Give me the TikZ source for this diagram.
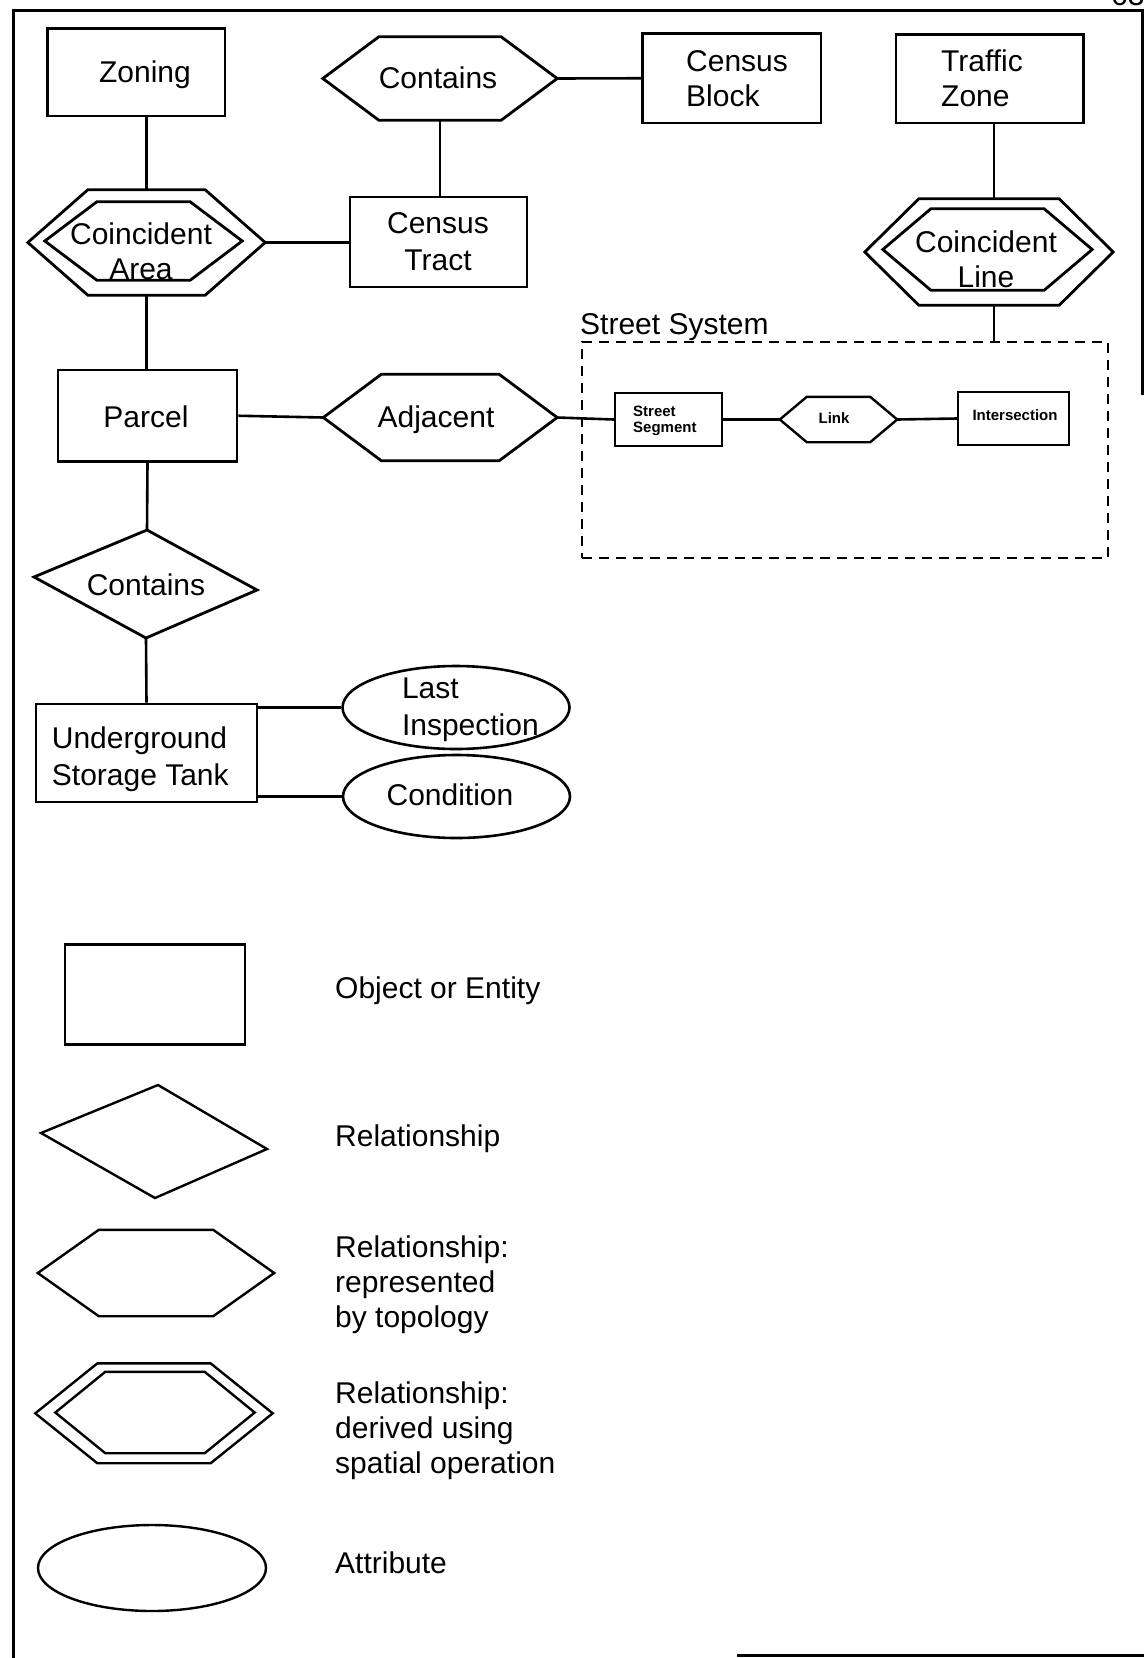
\documentclass[tikz,border=0pt]{standalone}
\usepackage{fontspec}
\setmainfont{Liberation Sans}
\usetikzlibrary{shapes.geometric,calc}
\newcommand{\hexpath}[2]{(#1.west) -- ([xshift=#2]#1.north west) -- ([xshift=-#2]#1.north east) -- (#1.east) -- ([xshift=-#2]#1.south east) -- ([xshift=#2]#1.south west) -- cycle}
\begin{document}
\begin{tikzpicture}[x=1pt,y=-1pt,
  ent/.style={draw, rectangle, line width=2.8pt, inner sep=0pt},
  hexbox/.style={rectangle, draw=none, inner sep=0pt},
  outline/.style={line width=2.8pt, line join=miter},
  legline/.style={line width=2.4pt, line join=miter},
  attr/.style={draw, ellipse, line width=2.6pt, inner sep=0pt},
  conn/.style={line width=2.6pt},
  sysbox/.style={draw, rectangle, line width=2.4pt, dash pattern=on 10pt off 7pt, inner sep=0pt},
  frameline/.style={line width=3pt, line join=miter},
  txt/.style={inner sep=0pt, font=\fontsize{30pt}{#1}\selectfont},
  txt/.default=35pt,
  small/.style={inner sep=0pt, font=\fontsize{15pt}{16.3pt}\selectfont\bfseries},
]
\useasboundingbox (0,0) rectangle (1144,1658);

% page frame
\draw[frameline] (13,1658) -- (13,10) -- (1142,10) -- (1142,395);
\draw[frameline] (737,1655.5) -- (1144,1655.5);
\node[txt, anchor=base west] (pg) at (1111,5) {63};

% ---------- shapes ----------
\node[ent, minimum width=177.5pt, minimum height=87.5pt] (zoning) at (136.25,72.25) {};
\node[hexbox, minimum width=234pt, minimum height=83pt] (cont1) at (440,78.5) {};
\node[ent, minimum width=178.5pt, minimum height=89.5pt] (block) at (731.75,78.25) {};
\node[ent, minimum width=187.5pt, minimum height=88.5pt] (traffic) at (989.75,78.75) {};
\node[ent, minimum width=177pt, minimum height=90pt] (tract) at (438.5,242) {};
\node[hexbox, minimum width=237pt, minimum height=105pt] (caOut) at (146.5,242.5) {};
\node[hexbox, minimum width=197pt, minimum height=78pt] (caIn) at (143.5,241) {};
\node[hexbox, minimum width=248pt, minimum height=106pt] (clOut) at (989,252) {};
\node[hexbox, minimum width=209pt, minimum height=81pt] (clIn) at (987.5,249.5) {};
\node[sysbox, minimum width=526pt, minimum height=216pt] (sys) at (845,450) {};
\node[ent, minimum width=179pt, minimum height=91.5pt] (parcel) at (147.5,415.75) {};
\node[hexbox, minimum width=233.5pt, minimum height=86pt] (adj) at (440.25,417.5) {};
\node[ent, line width=2.4pt, minimum width=107pt, minimum height=53pt] (seg) at (668.5,419.5) {};
\node[hexbox, minimum width=117pt, minimum height=45pt] (link) at (838.5,419.5) {};
\node[ent, line width=2.4pt, minimum width=111pt, minimum height=53pt] (inter) at (1013.5,418.5) {};
\coordinate (cdT) at (147,530);
\coordinate (cdR) at (257,590);
\coordinate (cdB) at (146,638);
\coordinate (cdL) at (34,577);
\node[ent, minimum width=221pt, minimum height=98pt] (ust) at (146.5,753) {};
\node[attr, minimum width=227pt, minimum height=83pt] (li) at (456,707.5) {};
\node[attr, minimum width=227pt, minimum height=83pt] (cond) at (456.5,796.5) {};

\draw[outline] \hexpath{cont1}{56pt};
\draw[outline] \hexpath{caOut}{60pt};
\draw[outline] \hexpath{caIn}{52pt};
\draw[outline] \hexpath{clOut}{54pt};
\draw[outline] \hexpath{clIn}{48pt};
\draw[outline] \hexpath{adj}{58pt};
\draw[legline] \hexpath{link}{27pt};
\draw[outline] (cdT) -- (cdR) -- (cdB) -- (cdL) -- cycle;

% ---------- connectors ----------
\draw[conn] (cont1.east) -- (block.west);
\draw[conn] (cont1.south) -- (cont1.south |- tract.north);
\draw[conn] (caOut.north) -- (caOut.north |- zoning.south);
\draw[conn] (caOut.east) -- (caOut.east -| tract.west);
\draw[conn] ([xshift=5pt]clOut.north) -- ([xshift=5pt]clOut.north |- traffic.south);
\draw[conn] ([xshift=5pt]clOut.south) -- ([xshift=5pt]clOut.south |- sys.north);
\draw[conn] (caOut.south) -- (caOut.south |- parcel.north);
\draw[conn] (parcel.east) -- (adj.west);
\draw[conn] (adj.east) -- (seg.west);
\draw[conn] (seg.east) -- (link.west);
\draw[conn] (link.east) -- (inter.west);
\draw[conn] (parcel.south) -- (cdT);
\draw[conn] (cdB) -- (ust.north);
\draw[conn] (li.west -| ust.east) -- (li.west);
\draw[conn] (cond.west -| ust.east) -- (cond.west);

% ---------- texts ----------
\node[txt, anchor=base] (zoningT) at (145,82) {Zoning};
\node[txt, anchor=base] (cont1T) at (438,88) {Contains};
\node[txt, anchor=west, align=left] (blockT) at (686,78.3) {Census\\Block};
\node[txt, anchor=west, align=left] (trafficT) at (941,78.7) {Traffic\\Zone};
\node[txt=37pt, align=center] (tractT) at (438,241.5) {Census\\Tract};
\node[txt=35pt, align=center] (caT) at (141,251.5) {Coincident\\Area};
\node[txt=35pt, align=center] (clT) at (986,259) {Coincident\\Line};
\node[txt, anchor=base west] (sysT) at (580,334) {Street System};
\node[txt, anchor=base] (parcelT) at (146,427) {Parcel};
\node[txt, anchor=base] (adjT) at (436,427) {Adjacent};
\node[small, anchor=west, align=left] (segT) at (633,421) {Street\\Segment};
\node[small, anchor=base] (linkT) at (834,423.5) {Link};
\node[small, anchor=base] (interT) at (1015,420.5) {Intersection};
\node[txt, anchor=base] (cont2T) at (146,595) {Contains};
\node[txt=37pt, anchor=west, align=left] (ustT) at (51.7,759.7) {Underground\\Storage Tank};
\node[txt=37pt, anchor=west, align=left] (liT) at (401.8,709.7) {Last\\Inspection};
\node[txt, anchor=base] (condT) at (450,805) {Condition};

% ---------- legend ----------
\node[ent, line width=2.4pt, minimum width=180pt, minimum height=100pt] (lgRect) at (155,994.6) {};
\coordinate (lgdT) at (158,1085);
\coordinate (lgdR) at (267,1149);
\coordinate (lgdB) at (155,1198);
\coordinate (lgdL) at (41,1133);
\draw[legline] (lgdT) -- (lgdR) -- (lgdB) -- (lgdL) -- cycle;
\node[hexbox, minimum width=236pt, minimum height=86pt] (lgHex) at (156,1273) {};
\draw[legline] \hexpath{lgHex}{61pt};
\node[hexbox, minimum width=237pt, minimum height=99.4pt] (lgDOut) at (154,1413.3) {};
\node[hexbox, minimum width=199pt, minimum height=81pt] (lgDIn) at (155,1412.5) {};
\draw[legline] \hexpath{lgDOut}{62pt};
\draw[legline] \hexpath{lgDIn}{50pt};
\node[attr, line width=2.4pt, minimum width=228pt, minimum height=86pt] (lgEll) at (152,1568) {};

\node[txt, anchor=base west] (l1) at (335,998) {Object or Entity};
\node[txt, anchor=base west] (l2) at (335,1146) {Relationship};
\node[txt=35pt, anchor=west, align=left] (l3) at (335,1285) {Relationship:\\represented\\by topology};
\node[txt=35pt, anchor=west, align=left] (l4) at (335,1430.7) {Relationship:\\derived using\\spatial operation};
\node[txt, anchor=base west] (l5) at (335,1573) {Attribute};
\end{tikzpicture}
\end{document}
